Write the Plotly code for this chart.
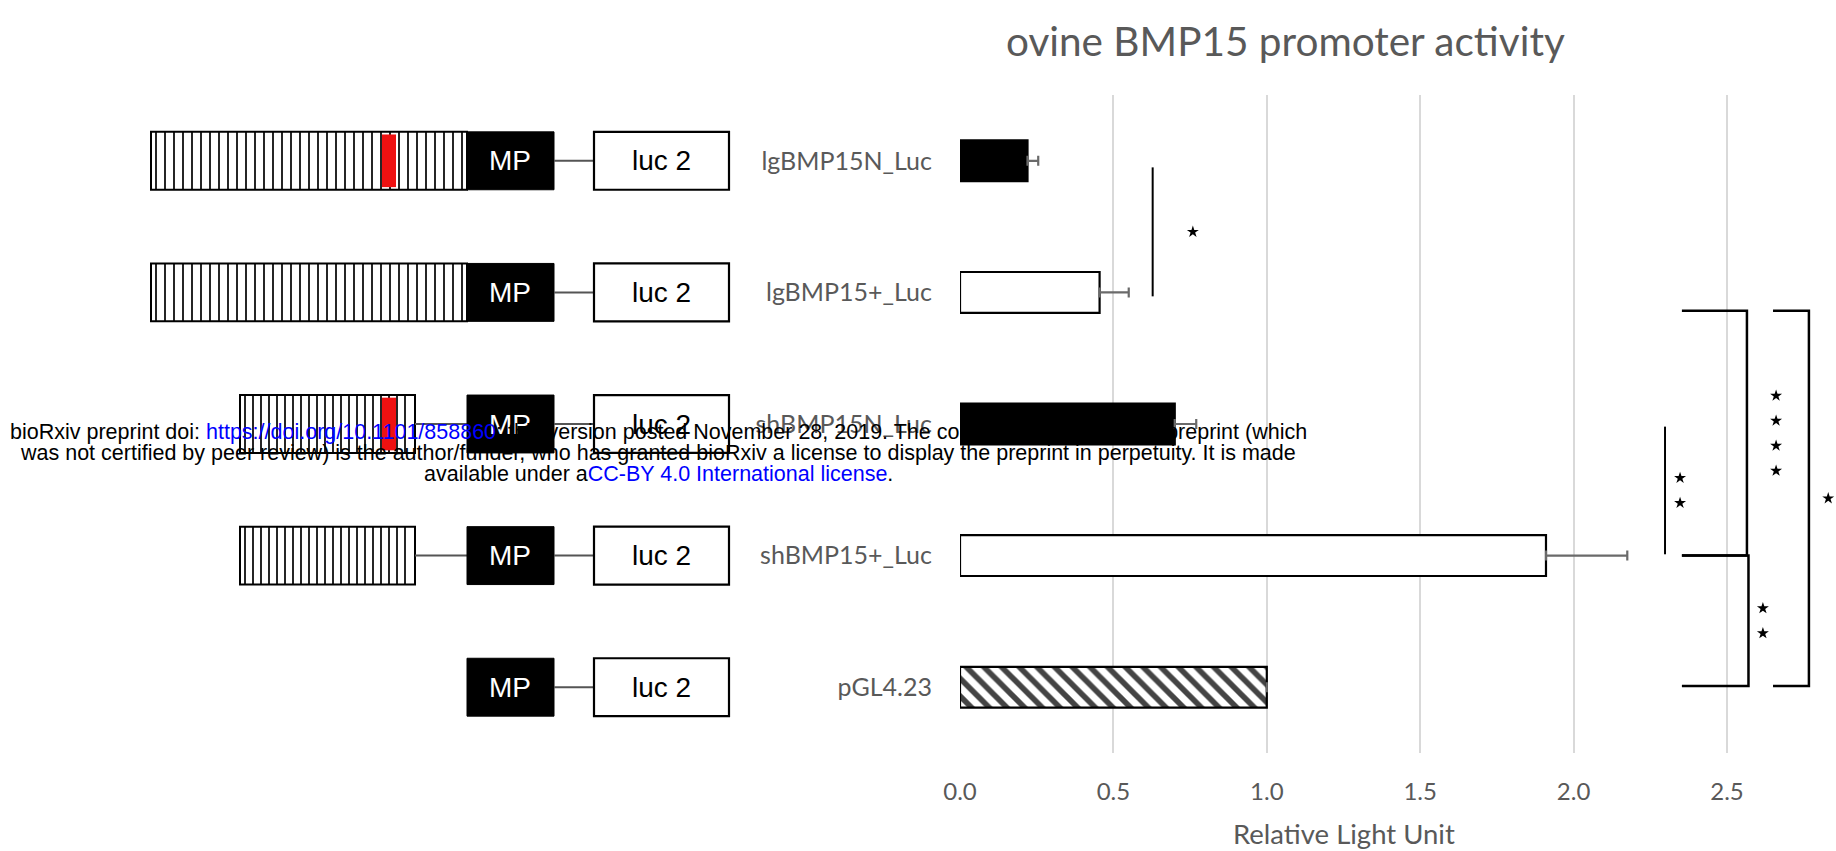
import plotly.graph_objects as go

# ---------------- data ----------------
categories = ["lgBMP15N_Luc", "lgBMP15+_Luc", "shBMP15N_Luc", "shBMP15+_Luc", "pGL4.23"]
rlu_values = [0.22, 0.455, 0.70, 1.91, 1.00]
rlu_errors = [0.035, 0.095, 0.07, 0.265, 0.0]
bar_fills = ["black", "white", "black", "white", "white"]
bar_patterns = ["", "", "", "", "\\"]
x_tick_vals = [0.0, 0.5, 1.0, 1.5, 2.0, 2.5]
x_tick_text = ["0.0", "0.5", "1.0", "1.5", "2.0", "2.5"]

# promoter construct drawn left of each bar
construct_insert = ["long", "long", "short", "short", None]
construct_snp = [True, False, True, False, False]

# significance marks: (from category, to category, style, n stars)
sig_marks = [
    (0, 1, "line", 1),
    (2, 3, "line", 2),
    (1, 3, "bracket", 4),
    (3, 4, "bracket", 2),
    (1, 4, "bracket", 1),
]
sig_x = [0.628, 2.298, 2.565, 2.57, 2.767]
sig_arm = [None, None, 2.353, 2.353, 2.65]
sig_star_x = [0.759, 2.347, 2.66, 2.617, 2.83]
sig_offsets = [(0.05, 0.03), (0.02, -0.01), (0.14, 0.0), (0.0, -0.01), (0.14, -0.01)]

# ---------------- layout geometry ----------------
W, H = 1836, 851
PL, PR = 960, 1836          # plot area in pixels
PT, PB = 95, 753
PX_PER_UNIT = 306.8
X_MAX = (PR - PL) / PX_PER_UNIT
GRAY = "#595959"
TXT_FONT = "Lato"
positions = list(range(len(categories)))


def xp(px):
    return (px - PL) / (PR - PL)


def yp(py):
    return (PB - py) / (PB - PT)


fig = go.Figure()
fig.add_trace(go.Bar(
    y=positions, x=rlu_values, orientation="h", width=0.31,
    marker=dict(color=bar_fills, line=dict(color="black", width=2.2),
                pattern=dict(shape=bar_patterns, fgcolor="black", fgopacity=1,
                             size=12.5, solidity=0.45)),
    error_x=dict(type="data", array=rlu_errors, arrayminus=[0] * len(rlu_errors),
                 symmetric=False, color="#6a6a6a", thickness=2.2, width=5),
    showlegend=False, hoverinfo="skip",
))

shapes = []
annotations = []

# ---- construct diagrams ----
HH = 0.22
LONG = (151, 467)
SHORT = (240, 415)
MP = (467, 554)
LUC = (594, 729)
SNP = (382, 396)
for i, cat in zip(positions, categories):
    ins = construct_insert[i]
    if ins is not None:
        a, b = LONG if ins == "long" else SHORT
        shapes.append(dict(type="rect", xref="paper", yref="y", x0=xp(a), x1=xp(b),
                           y0=i - HH, y1=i + HH, fillcolor="white",
                           line=dict(color="black", width=2)))
        step = 9.0 if ins == "long" else 8.0
        path = ""
        p = a + 5
        while p < b - 2:
            path += f"M{xp(p)},{i - HH} V{i + HH} "
            p += step
        shapes.append(dict(type="path", xref="paper", yref="y", path=path,
                           line=dict(color="black", width=1.7)))
        if construct_snp[i]:
            shapes.append(dict(type="rect", xref="paper", yref="y", x0=xp(SNP[0]), x1=xp(SNP[1]),
                               y0=i - HH + 0.02, y1=i + HH - 0.02, fillcolor="#ee1111",
                               line=dict(width=0)))
        if ins == "short":
            shapes.append(dict(type="line", xref="paper", yref="y", x0=xp(b), x1=xp(MP[0]),
                               y0=i, y1=i, line=dict(color="#555555", width=2)))
    shapes.append(dict(type="rect", xref="paper", yref="y", x0=xp(MP[0]), x1=xp(MP[1]),
                       y0=i - HH, y1=i + HH, fillcolor="black", line=dict(color="black", width=1)))
    shapes.append(dict(type="line", xref="paper", yref="y", x0=xp(MP[1]), x1=xp(LUC[0]),
                       y0=i, y1=i, line=dict(color="#555555", width=2)))
    shapes.append(dict(type="rect", xref="paper", yref="y", x0=xp(LUC[0]), x1=xp(LUC[1]),
                       y0=i - HH, y1=i + HH, fillcolor="white", line=dict(color="black", width=2.2)))
    annotations.append(dict(xref="paper", yref="y", x=xp((MP[0] + MP[1]) / 2), y=i,
                            xanchor="center", yanchor="middle",
                            text="MP", showarrow=False,
                            font=dict(family="Liberation Sans", size=28, color="white")))
    annotations.append(dict(xref="paper", yref="y", x=xp((LUC[0] + LUC[1]) / 2), y=i,
                            xanchor="center", yanchor="middle",
                            text="luc 2", showarrow=False,
                            font=dict(family="Liberation Sans", size=28, color="black")))

# ---- significance marks ----
star_x, star_y = [], []
STAR_STEP = 0.19
for (a, b, style, n), x, arm, sx, (oa, ob) in zip(sig_marks, sig_x, sig_arm, sig_star_x, sig_offsets):
    ya, yb = positions[a] + oa, positions[b] + ob
    if style == "line":
        shapes.append(dict(type="line", xref="x", yref="y", x0=x, x1=x, y0=ya, y1=yb,
                           line=dict(color="black", width=2)))
    else:
        shapes.append(dict(type="path", xref="x", yref="y",
                           path=f"M{arm},{ya} H{x} V{yb} H{arm}",
                           line=dict(color="black", width=2.5)))
    mid = (ya + yb) / 2
    for k in range(n):
        star_x.append(sx)
        star_y.append(mid + (k - (n - 1) / 2) * STAR_STEP)

fig.add_trace(go.Scatter(x=star_x, y=star_y, mode="markers",
                         marker=dict(symbol="star", size=9, color="black"),
                         showlegend=False, hoverinfo="skip", cliponaxis=False))

# ---- titles ----
annotations.append(dict(xref="paper", yref="paper", x=xp(1285), y=yp(41),
                        xanchor="center", yanchor="middle",
                        text="ovine BMP15 promoter activity", showarrow=False,
                        font=dict(family=TXT_FONT, size=40.5, color=GRAY)))
annotations.append(dict(xref="x", yref="paper", x=1.25, y=yp(833),
                        xanchor="center", yanchor="middle",
                        text="Relative Light Unit", showarrow=False,
                        font=dict(family=TXT_FONT, size=27.5, color=GRAY)))

# ---- bioRxiv watermark ----
BLUE = "#0000ff"
wm_lines = [
    f"bioRxiv preprint doi: <span style='color:{BLUE}'>https://doi.org/10.1101/858860</span>; this version posted November 28, 2019. The copyright holder for this preprint (which",
    "was not certified by peer review) is the author/funder, who has granted bioRxiv a license to display the preprint in perpetuity. It is made",
    f"available under a<span style='color:{BLUE}'>CC-BY 4.0 International license</span>.",
]
wm_y = [432, 453, 474]
for t, y in zip(wm_lines, wm_y):
    annotations.append(dict(xref="paper", yref="paper", x=xp(658), y=yp(y), text=t,
                            xanchor="center", yanchor="middle", showarrow=False,
                            font=dict(family="Liberation Sans", size=21.5, color="black")))

fig.update_layout(
    width=W, height=H,
    margin=dict(l=PL, r=W - PR, t=PT, b=H - PB, pad=0),
    paper_bgcolor="white", plot_bgcolor="white",
    shapes=shapes, annotations=annotations,
    xaxis=dict(range=[0, X_MAX], tickvals=x_tick_vals, ticktext=x_tick_text,
               showgrid=True, gridcolor="#d9d9d9", gridwidth=2, zeroline=False,
               showline=False, ticks="", ticklabelstandoff=22,
               tickfont=dict(family=TXT_FONT, size=24, color=GRAY)),
    yaxis=dict(tickvals=positions, ticktext=categories,
               range=[len(categories) - 0.5, -0.5], showgrid=False, zeroline=False,
               showline=False, ticks="", ticklabelstandoff=27,
               tickfont=dict(family=TXT_FONT, size=25, color=GRAY)),
)

fig.write_html("out.html")
